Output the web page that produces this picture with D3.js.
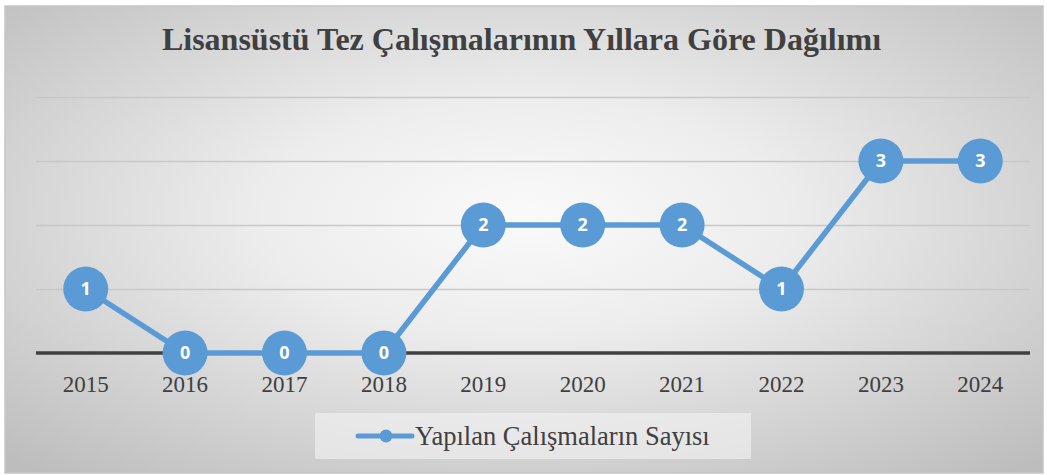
<!DOCTYPE html>
<html>
<head>
<meta charset="utf-8">
<script src="https://cdn.jsdelivr.net/npm/d3@7"></script>
<style>
  html, body { margin: 0; padding: 0; background: #ffffff; }
  svg { display: block; }
</style>
</head>
<body>
<svg id="chart" width="1047" height="475"></svg>
<script>
// Thesis counts per year
const years = ["2015", "2016", "2017", "2018", "2019", "2020", "2021", "2022", "2023", "2024"];
const counts = [1, 0, 0, 0, 2, 2, 2, 1, 3, 3];
const yTicks = [0, 1, 2, 3, 4];
const chartTitle = "Lisansüstü Tez Çalışmalarının Yıllara Göre Dağılımı";
const seriesName = "Yapılan Çalışmaların Sayısı";

const serif = "'Liberation Serif', 'Times New Roman', serif";
const svg = d3.select("#chart");
const defs = svg.append("defs");

// Chart-area background: soft radial fill, light centre, grey rim
const bg = defs.append("radialGradient")
  .attr("id", "bgGrad")
  .attr("cx", "50%").attr("cy", "45%").attr("r", "72%");
bg.append("stop").attr("offset", "0%").attr("stop-color", "#fafafa");
bg.append("stop").attr("offset", "35%").attr("stop-color", "#ededed");
bg.append("stop").attr("offset", "100%").attr("stop-color", "#bdbdbd");

const frame = { x: 5, y: 6, w: 1038, h: 467 };
svg.append("rect")
  .attr("x", frame.x).attr("y", frame.y)
  .attr("width", frame.w).attr("height", frame.h)
  .attr("fill", "url(#bgGrad)")
  .attr("stroke", "#c6c6c6").attr("stroke-width", 1.5);

// Plot area
const plot = { left: 36, right: 1030, top: 97, bottom: 353 };

const x = d3.scaleBand()
  .domain(years)
  .range([plot.left, plot.right]);

const y = d3.scaleLinear()
  .domain([0, 4])
  .range([plot.bottom, plot.top]);

// Gridlines fade from faint at the top to darker near the baseline
const gridGrad = defs.append("linearGradient")
  .attr("id", "gridGrad")
  .attr("gradientUnits", "userSpaceOnUse")
  .attr("x1", 0).attr("x2", 0)
  .attr("y1", y(4)).attr("y2", y(1));
gridGrad.append("stop").attr("offset", "0%").attr("stop-color", "#c8c8c8");
gridGrad.append("stop").attr("offset", "100%").attr("stop-color", "#7f7f7f");

const yGrid = d3.axisLeft(y)
  .tickValues(yTicks.filter(d => d > 0))
  .tickSize(-(plot.right - plot.left))
  .tickFormat("");

svg.append("g")
  .attr("transform", `translate(${plot.left},0)`)
  .call(yGrid)
  .call(g => g.select(".domain").remove())
  .call(g => g.selectAll(".tick line")
    .attr("stroke", "url(#gridGrad)")
    .attr("stroke-width", 1.6));

// Category axis with heavy baseline
const xAxis = d3.axisBottom(x).tickSize(0).tickPadding(0);
svg.append("g")
  .attr("transform", `translate(0,${y(0)})`)
  .call(xAxis)
  .attr("font-family", serif)
  .attr("font-size", "23px")
  .call(g => g.select(".domain")
    .attr("d", `M${plot.left},0H${plot.right}`)
    .attr("stroke", "#404040")
    .attr("stroke-width", 3.5))
  .call(g => g.selectAll(".tick text")
    .attr("dy", 0)
    .attr("y", 39)
    .attr("fill", "#404040"));

// Title
svg.append("text")
  .attr("x", 521.5).attr("y", 50)
  .attr("text-anchor", "middle")
  .attr("fill", "#404040")
  .attr("font-family", serif)
  .attr("font-weight", "bold")
  .attr("font-size", "32px")
  .text(chartTitle);

// Series line and labelled markers
const blue = "#5b9bd5";
const cx = d => x(d) + x.bandwidth() / 2;
const pts = years.map((yr, i) => ({ yr, v: counts[i] }));

svg.append("path")
  .datum(pts)
  .attr("fill", "none")
  .attr("stroke", blue)
  .attr("stroke-width", 5.5)
  .attr("stroke-linejoin", "round")
  .attr("d", d3.line().x(d => cx(d.yr)).y(d => y(d.v)));

const marks = svg.append("g").selectAll("g")
  .data(pts).join("g")
  .attr("transform", d => `translate(${cx(d.yr)},${y(d.v)})`);

marks.append("circle")
  .attr("r", 22.5)
  .attr("fill", blue);

marks.append("text")
  .attr("text-anchor", "middle")
  .attr("dy", "0.36em")
  .attr("fill", "#ffffff")
  .attr("font-family", "'Open Sans', 'DejaVu Sans', sans-serif")
  .attr("font-weight", "bold")
  .attr("font-size", "18px")
  .text(d => d.v);

// Legend
const legend = svg.append("g");
legend.append("rect")
  .attr("x", 315).attr("y", 413)
  .attr("width", 436).attr("height", 46)
  .attr("fill", "#f4f4f4").attr("fill-opacity", 0.6);
legend.append("line")
  .attr("x1", 358).attr("x2", 412)
  .attr("y1", 436).attr("y2", 436)
  .attr("stroke", blue).attr("stroke-width", 5)
  .attr("stroke-linecap", "round");
legend.append("circle")
  .attr("cx", 386).attr("cy", 436).attr("r", 6.5)
  .attr("fill", blue);
legend.append("text")
  .attr("x", 415).attr("y", 445)
  .attr("fill", "#404040")
  .attr("font-family", serif)
  .attr("font-size", "26.5px")
  .text(seriesName);
</script>
</body>
</html>
